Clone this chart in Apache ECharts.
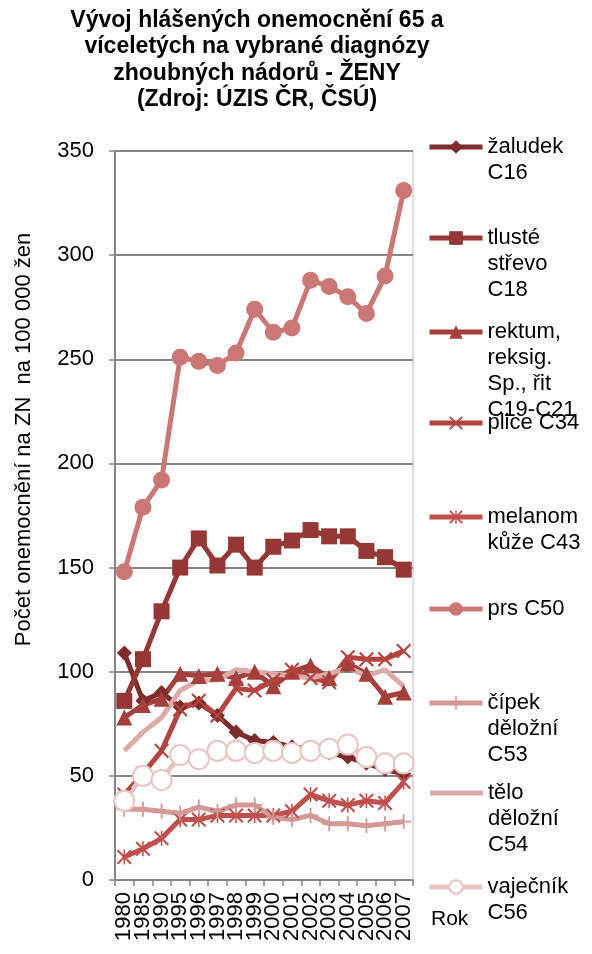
<!DOCTYPE html>
<html>
<head>
<meta charset="utf-8">
<script src="https://cdn.jsdelivr.net/npm/echarts@6/dist/echarts.min.js"></script>
<style>html,body{margin:0;padding:0;background:#fff}#c{width:592px;height:954px}</style>
</head>
<body>
<div id="c"></div>
<script>
const years = ['1980','1985','1990','1995','1996','1997','1998','1999','2000','2001','2002','2003','2004','2005','2006','2007'];
const yTicks = [0, 50, 100, 150, 200, 250, 300, 350];

const seriesNames = ['žaludek C16','tlusté střevo C18','rektum, reksig. Sp., řit C19-C21','plice C34','melanom kůže C43','prs C50','čípek děložní C53','tělo děložní C54','vaječník C56'];
const legendLabels = ['žaludek\nC16','tlusté\nstřevo\nC18','rektum,\nreksig.\nSp., řit\nC19-C21','plice C34','melanom\nkůže C43','prs C50','čípek\nděložní\nC53','tělo\nděložní\nC54','vaječník\nC56'];

const zaludek  = [109, 86, 90, 83, 85, 79, 71, 67, 66, 64, 63, 61, 59, 56, 53, 51];
const tlusteStrevo = [86, 106, 129, 150, 164, 151, 161, 150, 160, 163, 168, 165, 165, 158, 155, 149];
const rektum   = [78, 84, 87, 99, 98, 99, 97, 100, 93, 100, 103, 97, 104, 99, 88, 90];
const plice    = [41, 51, 62, 82, 86, 79, 92, 91, 96, 101, 97, 95, 107, 106, 106, 110];
const melanom  = [11, 15, 20, 29, 29, 31, 31, 31, 31, 33, 41, 38, 36, 38, 37, 47];
const prs      = [148, 179, 192, 251, 249, 247, 253, 274, 263, 265, 288, 285, 280, 272, 290, 331];
const cipek    = [34, 34, 33, 32, 35, 33, 36, 36, 30, 29, 31, 27, 27, 26, 27, 28];
const telo     = [62, 71, 78, 91, 96, 96, 101, 100, 99, 98, 97, 99, 102, 98, 101, 93];
const vajecnik = [38, 50, 48, 60, 58, 62, 62, 61, 62, 61, 62, 63, 65, 59, 56, 56];

const dataList = [zaludek, tlusteStrevo, rektum, plice, melanom, prs, cipek, telo, vajecnik];
const colors = ['#7D2B2B','#953735','#A43F3C','#B5433F','#C0504D','#CB7775','#D49896','#DCAAA9','#E6C6C5'];

const X_PATH = 'path://M1,0L5,4L9,0L10,1L6,5L10,9L9,10L5,6L1,10L0,9L4,5L0,1Z';
const STAR_PATH = 'path://M1,0L5,4L9,0L10,1L6,5L10,9L9,10L5,6L1,10L0,9L4,5L0,1Z M4.5,0L5.5,0L5.5,10L4.5,10Z';
const PLUS_PATH = 'path://M4.4,0H5.6V4.4H10V5.6H5.6V10H4.4V5.6H0V4.4H4.4Z';
const BAR_ICON = 'path://M0,0H53V5H0Z';
const symbols = ['diamond','rect','triangle',X_PATH,STAR_PATH,'circle',PLUS_PATH,'none','emptyCircle'];
const symbolSizes = [15, 16, 16, 15, 15, 17, 15, 0, 20];

const series = seriesNames.map((n, i) => ({
  name: n,
  type: 'line',
  data: dataList[i],
  symbol: symbols[i],
  symbolSize: symbolSizes[i],
  showSymbol: symbols[i] !== 'none',
  lineStyle: { width: 5, color: colors[i] },
  itemStyle: symbols[i] === 'emptyCircle'
    ? { color: colors[i], borderColor: colors[i], borderWidth: 2 }
    : { color: colors[i] },
  emphasis: { disabled: true },
  animation: false
}));

const legendIconY = [147, 238, 332, 423, 517, 609, 703, 793, 887];
const LH = 26;
const legends = seriesNames.map((n, i) => {
  const lines = legendLabels[i].split('\n').length;
  const blockH = (2 * lines - 1) * LH;
  const label = '\n'.repeat(lines - 1) + legendLabels[i];
  const isBar = symbols[i] === 'none';
  const item = isBar ? { name: n, icon: BAR_ICON } : { name: n };
  return {
    data: [item],
    orient: 'vertical',
    left: isBar ? 430 : 427,
    top: legendIconY[i] - blockH / 2,
    padding: 0,
    itemWidth: 53,
    itemHeight: 17,
    itemGap: 0,
    selectedMode: false,
    lineStyle: { width: 5 },
    formatter: () => label,
    textStyle: {
      fontFamily: 'Liberation Sans, Arial, sans-serif',
      fontSize: 22,
      color: '#000',
      lineHeight: LH
    }
  };
});

const chart = echarts.init(document.getElementById('c'), null, { renderer: 'canvas' });
chart.setOption({
  animation: false,
  backgroundColor: '#fff',
  title: {
    text: 'Vývoj hlášených onemocnění 65 a\nvíceletých na vybrané diagnózy\nzhoubných nádorů - ŽENY\n(Zdroj: ÚZIS ČR, ČSÚ)',
    left: 257,
    top: 7,
    padding: 0,
    textAlign: 'center',
    textStyle: {
      fontFamily: 'Liberation Sans, Arial, sans-serif',
      fontSize: 23,
      fontWeight: 'bold',
      color: '#000',
      lineHeight: 26.5
    }
  },
  legend: legends,
  graphic: [{
    type: 'text',
    left: 431,
    top: 909,
    style: { text: 'Rok', font: '21px "Liberation Sans", Arial, sans-serif', fill: '#000' }
  }],
  grid: { left: 115, right: 179, top: 151, bottom: 74, show: true, borderColor: '#BFBFBF', borderWidth: 1 },
  xAxis: {
    type: 'category',
    data: years,
    boundaryGap: true,
    axisLine: { lineStyle: { color: '#868686', width: 2 } },
    axisTick: { show: true, length: 6, lineStyle: { color: '#868686', width: 1.5 } },
    axisLabel: { rotate: 90, margin: 12, interval: 0, fontFamily: 'Liberation Sans, Arial, sans-serif', fontSize: 22, color: '#000' },
    splitLine: { show: false }
  },
  yAxis: {
    type: 'value',
    min: yTicks[0],
    max: yTicks[yTicks.length - 1],
    interval: 50,
    name: 'Počet onemocnění na ZN  na 100 000 žen',
    nameLocation: 'middle',
    nameGap: 80,
    nameRotate: 90,
    nameTextStyle: { fontFamily: 'Liberation Sans, Arial, sans-serif', fontSize: 22, color: '#000', padding: [0, 0, 0, 152] },
    axisLine: { show: true, lineStyle: { color: '#868686', width: 2 } },
    axisTick: { show: true, length: 6, lineStyle: { color: '#868686', width: 1.5 } },
    axisLabel: { margin: 21, fontFamily: 'Liberation Sans, Arial, sans-serif', fontSize: 22, color: '#000' },
    splitLine: { show: true, lineStyle: { color: '#868686', width: 2 } }
  },
  series: series
});
</script>
</body>
</html>
